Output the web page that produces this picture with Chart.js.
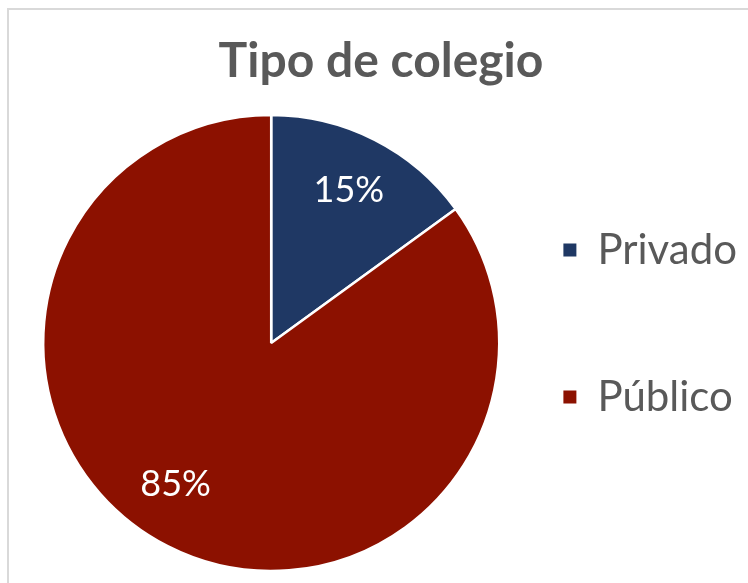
<!DOCTYPE html>
<html lang="es">
<head>
<meta charset="utf-8">
<title>Tipo de colegio</title>
<script src="https://cdn.jsdelivr.net/npm/chart.js@4.4.1/dist/chart.umd.min.js"></script>
<style>
  html, body { margin: 0; padding: 0; background: #fff; overflow: hidden; width: 748px; height: 583px; }
  .frame { position: absolute; left: 7px; top: 8px; width: 800px; height: 600px;
           border-left: 2px solid #d9d9d9; border-top: 2px solid #d9d9d9; }
  #chart { position: absolute; left: 9px; top: 10px; }
</style>
</head>
<body>
<div class="frame"></div>
<canvas id="chart" width="748" height="573"></canvas>
<script>
// Chart data
const categories = ['Privado', 'Público'];
const shares = [15, 85];
const sliceColors = ['#1f3864', '#8c1100'];

// small angle nudge (degrees) for each percentage label, like Excel's best fit
const labelNudge = [0, 7];

// Draw the percentage inside each slice
const sliceLabels = {
    id: 'sliceLabels',
    afterDatasetsDraw(chart) {
        const ctx = chart.ctx;
        const meta = chart.getDatasetMeta(0);
        const total = shares.reduce((a, b) => a + b, 0);
        ctx.save();
        ctx.fillStyle = '#ffffff';
        ctx.font = '36px Lato';
        ctx.textAlign = 'center';
        ctx.textBaseline = 'middle';
        meta.data.forEach((arc, i) => {
            const p = arc.getProps(['x', 'y', 'startAngle', 'endAngle', 'outerRadius'], true);
            const mid = (p.startAngle + p.endAngle) / 2 + labelNudge[i] * Math.PI / 180;
            const r = p.outerRadius * 0.75;
            const text = Math.round(shares[i] / total * 100) + '%';
            ctx.fillText(text, p.x + Math.cos(mid) * r, p.y + Math.sin(mid) * r);
        });
        ctx.restore();
    }
};

new Chart(document.getElementById('chart'), {
    type: 'pie',
    data: {
        labels: categories,
        datasets: [{
            data: shares,
            backgroundColor: sliceColors,
            borderColor: '#ffffff',
            borderWidth: 2.5,
            radius: 228,
            clip: false
        }]
    },
    options: {
        responsive: false,
        animation: false,
        layout: {
            padding: { left: 6, right: 10, top: 0, bottom: 60 }
        },
        plugins: {
            title: {
                display: true,
                text: 'Tipo de colegio',
                color: '#595959',
                font: { family: 'Lato', size: 48, weight: 'bold', lineHeight: 1.2 },
                padding: { top: 23.2, bottom: 72.2 }
            },
            legend: {
                position: 'right',
                align: 'end',
                labels: {
                    boxWidth: 13,
                    boxHeight: 13,
                    padding: 36,
                    color: '#595959',
                    // tall line height spreads the two entries apart
                    font: { family: 'Lato', size: 42, lineHeight: 2.643 },
                    generateLabels(chart) {
                        const items = Chart.overrides.pie.plugins.legend.labels.generateLabels(chart);
                        return items.map(item => Object.assign(item, { text: [item.text], lineWidth: 0 }));
                    }
                }
            },
            tooltip: { enabled: false }
        }
    },
    plugins: [sliceLabels]
});
</script>
</body>
</html>
